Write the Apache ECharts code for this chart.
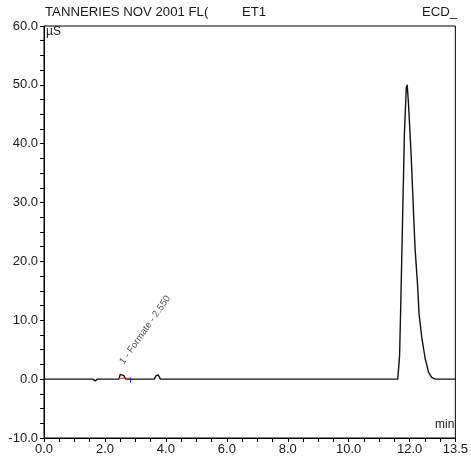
<!DOCTYPE html>
<html>
<head>
<meta charset="utf-8">
<script src="https://cdn.jsdelivr.net/npm/echarts@6/dist/echarts.min.js"></script>
<style>
html,body{margin:0;padding:0;background:#fff;}
#chart{width:471px;height:464px;}
</style>
</head>
<body>
<div id="chart"></div>
<script>
// Chromatogram trace (time in min, signal in µS)
const times = [0, 1.60, 1.68, 1.75, 2.14, 2.18, 2.22, 2.46, 2.50, 2.55, 2.62, 2.68,
  3.62, 3.68, 3.75, 3.82, 11.61, 11.67, 11.71, 11.78, 11.83, 11.89, 11.92, 11.96,
  12.05, 12.13, 12.18, 12.26, 12.31, 12.40, 12.51, 12.62, 12.72, 12.84, 13.5];
const signal = [0, 0, -0.3, 0, 0, -0.25, 0, 0, 0.8, 1.0, 0.6, 0,
  0, 0.6, 0.7, 0, 0, 4, 13, 30, 42, 49.5, 50, 47,
  38, 28, 22, 16, 11, 7, 3.5, 1.2, 0.3, 0, 0];
// Integration baseline marker (red) and peak end marker (blue)
const baselineTimes = [2.45, 2.81];
const baselineValues = [0.15, 0.15];
const endMarkTimes = [2.84, 2.84];
const endMarkValues = [0.3, -0.6];
// Peak annotation
const peakName = '1 - Formate - 2.550';
const peakTime = 2.55;
const peakValue = 1.0;
// Axis ticks
const xMin = 0, xMax = 13.5, xStep = 0.5;
const yMin = -10, yMax = 60, yStep = 2.5;
const titleLeft = 'TANNERIES NOV 2001 FL(';
const titleMid = 'ET1';
const titleRight = 'ECD_';
const yUnit = 'µS';
const xUnit = 'min';

const font = 'Liberation Sans, Arial, sans-serif';
const ink = '#1a1a1a';
const pair = (a, b) => a.map((v, i) => [v, b[i]]);

const chart = echarts.init(document.getElementById('chart'));
chart.setOption({
  animation: false,
  backgroundColor: '#fff',
  grid: { left: 44, right: 14, top: 26, bottom: 26, show: true, borderColor: '#000', borderWidth: 1 },
  xAxis: {
    type: 'value', min: xMin, max: xMax, interval: xStep,
    axisLine: { onZero: false, lineStyle: { color: '#000', width: 1 } },
    axisTick: { length: 4, lineStyle: { color: '#000' } },
    splitLine: { show: false },
    axisLabel: {
      interval: 0, margin: 5, color: ink, fontFamily: font, fontSize: 13,
      showMaxLabel: true,
      formatter: v => (Math.abs(v % 2) < 1e-6 || Math.abs(v - xMax) < 1e-6) ? v.toFixed(1) : ''
    }
  },
  yAxis: {
    type: 'value', min: yMin, max: yMax, interval: yStep,
    axisLine: { onZero: false, lineStyle: { color: '#000', width: 1 } },
    axisTick: { length: 4, lineStyle: { color: '#000' } },
    splitLine: { show: false },
    axisLabel: {
      margin: 6, color: ink, fontFamily: font, fontSize: 13,
      formatter: v => (Math.abs(v % 10) < 1e-6) ? v.toFixed(1) : ''
    }
  },
  graphic: [
    { type: 'text', left: 45, top: 7, scaleX: 1.1, style: { text: titleLeft, fill: ink, font: '12px ' + font } },
    { type: 'text', left: 242, top: 7, scaleX: 1.1, style: { text: titleMid, fill: ink, font: '12px ' + font } },
    { type: 'text', left: 422, top: 7, scaleX: 1.1, style: { text: titleRight, fill: ink, font: '12px ' + font } },
    { type: 'text', left: 46, top: 26, style: { text: yUnit, fill: ink, font: '12px ' + font } },
    { type: 'text', left: 435, top: 419, style: { text: xUnit, fill: ink, font: '12px ' + font } }
  ],
  series: [
    {
      type: 'line', data: pair(times, signal), showSymbol: false, symbol: 'none',
      lineStyle: { color: '#111', width: 1.4 }, z: 2
    },
    {
      type: 'line', data: pair(baselineTimes, baselineValues), symbol: 'none',
      lineStyle: { color: '#e0202a', width: 1 }, z: 3
    },
    {
      type: 'line', data: pair(endMarkTimes, endMarkValues), symbol: 'none',
      lineStyle: { color: '#2030d0', width: 1.2 }, z: 3
    },
    {
      type: 'scatter', data: [[peakTime, peakValue]], symbolSize: 0, z: 4,
      label: {
        show: true, formatter: peakName, position: 'top', distance: 10,
        align: 'left', verticalAlign: 'middle', rotate: 55,
        color: ink, fontFamily: font, fontSize: 9.5
      }
    }
  ]
});
</script>
</body>
</html>
